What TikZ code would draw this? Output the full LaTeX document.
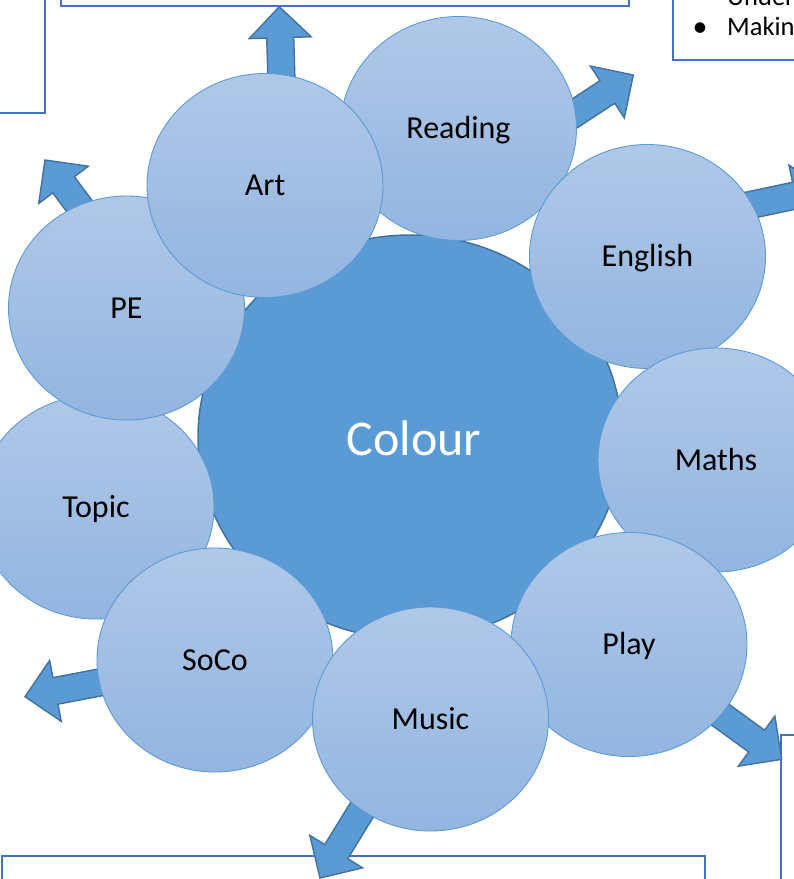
\documentclass[tikz,border=0pt]{standalone}
\usepackage{fontspec}
\setmainfont{Carlito}
\usetikzlibrary{shapes.geometric}
\definecolor{acc}{HTML}{5B9BD5}
\definecolor{accdark}{HTML}{41719C}
\definecolor{boxblue}{HTML}{4472C4}
\definecolor{ctop}{HTML}{B0C8E8}
\definecolor{cbot}{HTML}{93B5E0}
\tikzset{
  boxsty/.style={draw=boxblue, line width=2pt, fill=white, inner sep=0pt},
  arrowsty/.style={fill=acc, draw=accdark, line width=1.4pt, line join=miter},
  smallc/.style={ellipse, minimum width=236pt, minimum height=224pt, inner sep=0pt,
    top color=ctop, bottom color=cbot, draw=acc, line width=0.9pt,
    font=\fontsize{32}{38}\selectfont, text=black, text height=20.6pt, text depth=0pt},
  bigc/.style={ellipse, minimum width=424pt, minimum height=404pt, inner sep=0pt,
    fill=acc, draw=accdark, line width=1.5pt,
    font=\fontsize{50}{60}\selectfont, text=white, text height=32pt, text depth=0pt},
  boxtext/.style={anchor=base west, inner sep=0pt, font=\fontsize{26.5}{30}\selectfont}
}
\newcommand\blockarr[4]{%
  \begin{scope}[shift={(#2,#3)}, rotate=#4]
    \coordinate (#1) at (0,0);
    \filldraw[arrowsty] (#1) -- (-31,31) -- (-31,13.5) -- (-100,13.5) -- (-100,-13.5) -- (-31,-13.5) -- (-31,-31) -- cycle;
  \end{scope}}
\begin{document}
\begin{tikzpicture}[x=1pt,y=-1pt]
\path[use as bounding box] (0,0) rectangle (794,879);
\clip (0,0) rectangle (794,879);
% boxes
\draw[boxsty] (-20,-20) rectangle (44.5,113);
\draw[boxsty] (61,-20) rectangle (629,5.7);
\draw[boxsty] (672.7,-20) rectangle (830,60);
\draw[boxsty] (2,856) rectangle (705,900);
\draw[boxsty] (781,735) rectangle (830,900);
\node[boxtext] (under) at (727,5.3) {Under};
\node[boxtext, font=\fontsize{30}{30}\selectfont] (bullet) at (692.5,36.6) {•};
\node[boxtext] (making) at (727,35.7) {Making};
% arrows
\blockarr{artarr}{279.3}{6.7}{91.7}
\blockarr{readarr}{633.3}{75}{33.2}
\blockarr{engarr}{825.7}{189}{12}
\blockarr{pearr}{45}{160}{126.8}
\blockarr{socoarr}{25}{696.7}{190.8}
\blockarr{musicarr}{320}{878}{238.4}
\blockarr{playarr}{781.7}{759.3}{-36}
% central
\node[bigc] (colour) at (410,437) {};
\node[font=\fontsize{50}{60}\selectfont, text=white, text height=32pt, text depth=0pt, inner sep=0pt] (colourlbl) at (414,439) {Colour};
% small circles
\node[smallc] (reading) at (458.5,128.5) {Reading};
\node[smallc] (english) at (647.5,256.5) {English};
\node[smallc] (maths) at (716,460) {Maths};
\node[smallc] (play) at (629,644.5) {Play};
\node[smallc] (topic) at (96,507) {Topic};
\node[smallc] (pe) at (126.5,308) {PE};
\node[smallc] (art) at (265,185.5) {Art};
\node[smallc] (soco) at (215,660) {SoCo};
\node[smallc] (music) at (430.5,719) {Music};
\end{tikzpicture}
\end{document}
